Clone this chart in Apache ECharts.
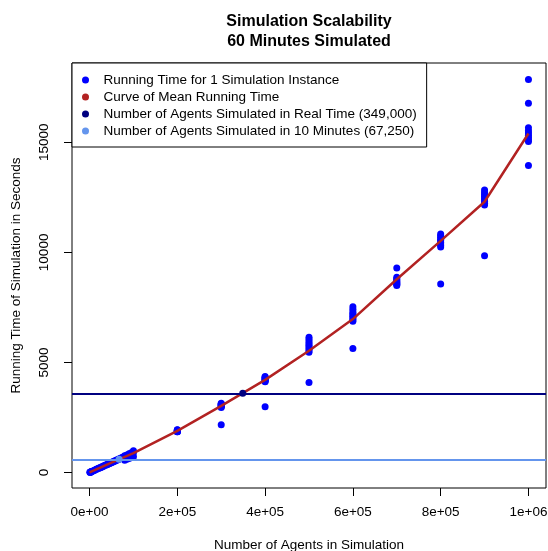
<!DOCTYPE html>
<html>
<head>
<meta charset="utf-8">
<script src="https://cdn.jsdelivr.net/npm/echarts@6/dist/echarts.min.js"></script>
<style>
  html, body { margin: 0; padding: 0; background: #fff; }
  #main { width: 548px; height: 551px; }
</style>
</head>
<body>
<div id="main"></div>
<script>
// small runs (agents, seconds)
var smallAgents = [1000, 1000, 2000, 2000, 3000, 4000, 5000, 5000, 10000, 10000,
  15000, 15000, 20000, 20000, 25000, 25000, 30000, 30000, 35000, 35000,
  40000, 40000, 45000, 45000, 50000, 50000, 55000, 55000, 60000, 60000,
  65000, 65000, 70000, 70000, 75000, 75000, 80000, 80000, 80000,
  85000, 85000, 85000, 90000, 90000, 90000, 95000, 95000, 95000,
  100000, 100000, 100000]
var smallTimes = [10, 15, 20, 25, 30, 40, 45, 50, 90, 100,
  135, 150, 180, 195, 225, 240, 270, 290, 320, 335,
  360, 380, 405, 425, 450, 470, 495, 520, 540, 565,
  585, 610, 630, 655, 675, 700, 560, 720, 760,
  600, 765, 800, 640, 810, 850, 680, 860, 900,
  720, 900, 990]

// large runs: 10 replicates each
var largeAgents = [200000, 300000, 400000, 500000, 600000, 700000, 800000, 900000, 1000000]
var largeTimes = [
  [1850, 1860, 1870, 1880, 1890, 1900, 1910, 1920, 1935, 1950],
  [2170, 2960, 2990, 3010, 3040, 3060, 3080, 3100, 3120, 3150],
  [2990, 4120, 4150, 4180, 4210, 4240, 4270, 4300, 4330, 4360],
  [4090, 5460, 5540, 5620, 5700, 5780, 5860, 5950, 6050, 6150],
  [5640, 6870, 6950, 7020, 7090, 7160, 7230, 7300, 7420, 7530],
  [8500, 8540, 8580, 8620, 8660, 8700, 8750, 8800, 8870, 9290],
  [8560, 10240, 10310, 10380, 10450, 10530, 10600, 10680, 10750, 10830],
  [9850, 12150, 12230, 12310, 12390, 12470, 12550, 12630, 12720, 12830],
  [13940, 15030, 15120, 15220, 15320, 15420, 15520, 15660, 16770, 17850]
]

// mean curve
var meanAgents = [0, 50000, 100000, 200000, 300000, 400000, 500000, 600000, 700000, 800000, 900000, 1000000]
var meanTimes = [10, 450, 880, 1895, 3030, 4210, 5530, 6970, 8780, 10520, 12300, 15400]

var realTimeAgents = 349000
var realTimeSeconds = 3600
var tenMinAgents = 67250
var tenMinSeconds = 600

var xTicks = [0, 200000, 400000, 600000, 800000, 1000000]
var xTickLabels = ['0e+00', '2e+05', '4e+05', '6e+05', '8e+05', '1e+06']
var yTicks = [0, 5000, 10000, 15000]
var yTickLabels = ['0', '5000', '10000', '15000']

var names = [
  'Running Time for 1 Simulation Instance',
  'Curve of Mean Running Time',
  'Number of Agents Simulated in Real Time (349,000)',
  'Number of Agents Simulated in 10 Minutes (67,250)'
]

var pts = []
smallAgents.forEach(function (a, i) { pts.push([a, smallTimes[i]]) })
largeAgents.forEach(function (a, i) {
  largeTimes[i].forEach(function (t) { pts.push([a, t]) })
})
var curve = meanAgents.map(function (a, i) { return [a, meanTimes[i]] })

var font = 'Liberation Sans, Arial, Helvetica, sans-serif'
var fs = 13.5

var myChart = echarts.init(document.getElementById('main'))
myChart.setOption({
  animation: false,
  textStyle: { fontFamily: font, color: '#000' },
  title: {
    text: 'Simulation Scalability\n60 Minutes Simulated',
    left: 309,
    top: 12,
    textAlign: 'center',
    padding: 0,
    textStyle: { fontFamily: font, fontSize: 16, fontWeight: 'bold', color: '#000', lineHeight: 20 }
  },
  legend: {
    orient: 'vertical',
    left: 72,
    top: 63,
    padding: [10, 10, 9, 10],
    itemGap: 3,
    itemWidth: 26,
    itemHeight: 7,
    borderColor: '#000',
    borderWidth: 1,
    borderRadius: 0,
    backgroundColor: '#fff',
    selectedMode: false,
    textStyle: { fontFamily: font, fontSize: fs, color: '#000' },
    data: names.map(function (n) { return { name: n, icon: 'circle' } })
  },
  grid: {
    left: 72, right: 2, top: 63, bottom: 63,
    containLabel: false,
    outerBoundsMode: 'none',
    show: true, borderColor: '#000', borderWidth: 1, backgroundColor: 'transparent'
  },
  xAxis: {
    type: 'value',
    min: -40000,
    max: 1040000,
    name: 'Number of Agents in Simulation',
    nameLocation: 'middle',
    nameGap: 50,
    nameTextStyle: { fontFamily: font, fontSize: fs, color: '#000' },
    axisLine: { show: false, onZero: false },
    splitLine: { show: false },
    axisTick: { show: true, customValues: xTicks, length: 8, lineStyle: { color: '#000' } },
    axisLabel: {
      customValues: xTicks,
      margin: 17.5,
      fontSize: fs,
      color: '#000',
      fontFamily: font,
      formatter: function (v) { return xTickLabels[xTicks.indexOf(v)] }
    }
  },
  yAxis: {
    type: 'value',
    min: -700,
    max: 18600,
    name: 'Running Time of Simulation in Seconds',
    nameLocation: 'middle',
    nameGap: 49,
    nameRotate: 90,
    nameTextStyle: { fontFamily: font, fontSize: fs, color: '#000' },
    axisLine: { show: false, onZero: false },
    splitLine: { show: false },
    axisTick: { show: true, customValues: yTicks, length: 8, lineStyle: { color: '#000' } },
    axisLabel: {
      customValues: yTicks,
      rotate: 90,
      margin: 21,
      fontSize: fs,
      color: '#000',
      fontFamily: font,
      formatter: function (v) { return yTickLabels[yTicks.indexOf(v)] }
    }
  },
  series: [
    {
      name: names[0],
      type: 'scatter',
      data: pts,
      symbolSize: 7,
      itemStyle: { color: '#0000FF', opacity: 1 },
      z: 2
    },
    {
      name: names[1],
      type: 'line',
      data: curve,
      showSymbol: false,
      itemStyle: { color: '#B22222' },
      lineStyle: { color: '#B22222', width: 2.5 },
      z: 3
    },
    {
      name: names[2],
      type: 'scatter',
      data: [[realTimeAgents, realTimeSeconds]],
      symbolSize: 7,
      itemStyle: { color: '#000080', opacity: 1 },
      markLine: {
        silent: true,
        symbol: 'none',
        label: { show: false },
        lineStyle: { color: '#000080', width: 2, type: 'solid' },
        data: [{ yAxis: realTimeSeconds }]
      },
      z: 4
    },
    {
      name: names[3],
      type: 'scatter',
      data: [[tenMinAgents, tenMinSeconds]],
      symbolSize: 7,
      itemStyle: { color: '#6495ED', opacity: 1 },
      markLine: {
        silent: true,
        symbol: 'none',
        label: { show: false },
        lineStyle: { color: '#6495ED', width: 2, type: 'solid' },
        data: [{ yAxis: tenMinSeconds }]
      },
      z: 4
    }
  ]
})
</script>
</body>
</html>
